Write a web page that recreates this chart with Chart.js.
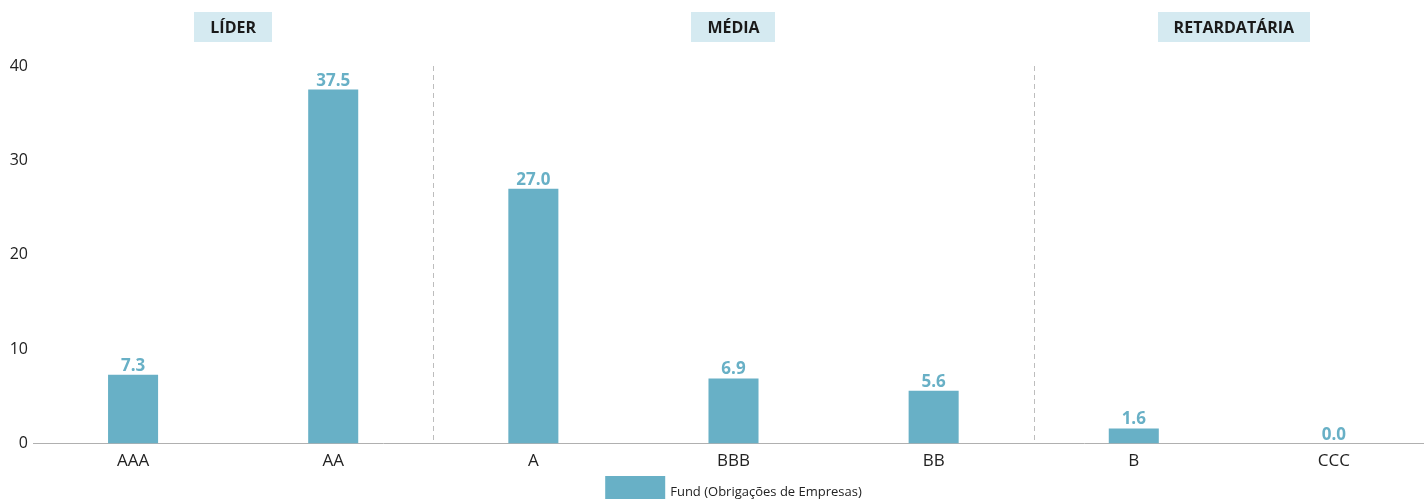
<!DOCTYPE html>
<html>
<head>
<meta charset="utf-8">
<script src="https://cdn.jsdelivr.net/npm/chart.js@4.4.1/dist/chart.umd.min.js"></script>
<style>
  html, body { margin: 0; padding: 0; background: #fff; overflow: hidden; }
  #wrap { width: 1434px; height: 499px; }
</style>
</head>
<body>
<div id="wrap"><canvas id="ratingChart"></canvas></div>
<script>
// Data
const ratings = ['AAA', 'AA', 'A', 'BBB', 'BB', 'B', 'CCC'];
const fundValues = [7.3, 37.5, 27.0, 6.9, 5.6, 1.6, 0.0];
const seriesName = 'Fund (Obrigações de Empresas)';
const groups = [
    { label: 'LÍDER', from: 0, to: 1 },
    { label: 'MÉDIA', from: 2, to: 4 },
    { label: 'RETARDATÁRIA', from: 5, to: 6 }
];
const yTicks = [0, 10, 20, 30, 40];

const barColor = '#68b0c6';
const fontFamily = '"Open Sans", "Noto Sans", sans-serif';

// group headers, separators, value labels and legend
const extras = {
    id: 'extras',
    beforeDatasetsDraw(chart) {
        const { ctx, chartArea } = chart;
        const x = chart.scales.x;
        ctx.save();
        ctx.strokeStyle = '#bdbdbd';
        ctx.lineWidth = 1;
        ctx.setLineDash([5, 4]);
        groups.slice(1).forEach(g => {
            const px = Math.round((x.getPixelForValue(g.from - 1) + x.getPixelForValue(g.from)) / 2) + 0.5;
            ctx.beginPath();
            ctx.moveTo(px, chartArea.top);
            ctx.lineTo(px, chartArea.bottom);
            ctx.stroke();
        });
        ctx.restore();
    },
    afterDatasetsDraw(chart) {
        const { ctx, chartArea } = chart;
        const x = chart.scales.x;
        ctx.save();
        // value labels
        ctx.font = 'bold 17px ' + fontFamily;
        ctx.fillStyle = barColor;
        ctx.textAlign = 'center';
        ctx.textBaseline = 'alphabetic';
        chart.getDatasetMeta(0).data.forEach((bar, i) => {
            ctx.fillText(fundValues[i].toFixed(1), bar.x, bar.y - 4);
        });
        // group headers
        ctx.font = 'bold 16px ' + fontFamily;
        ctx.textBaseline = 'middle';
        groups.forEach(g => {
            const cx = (x.getPixelForValue(g.from) + x.getPixelForValue(g.to)) / 2;
            const w = ctx.measureText(g.label).width + 32;
            ctx.fillStyle = '#d5eaf1';
            ctx.fillRect(Math.round(cx - w / 2), 12, Math.round(w), 30);
            ctx.fillStyle = '#1a1a1a';
            ctx.fillText(g.label, cx, 28);
        });
        // legend
        ctx.font = '13px ' + fontFamily;
        const tw = ctx.measureText(seriesName).width;
        const total = 60 + 5 + tw;
        const lx = (chartArea.left + chartArea.right) / 2 - total / 2;
        ctx.fillStyle = barColor;
        ctx.fillRect(lx, 476, 60, 26);
        ctx.fillStyle = '#222';
        ctx.textAlign = 'left';
        ctx.textBaseline = 'alphabetic';
        ctx.fillText(seriesName, lx + 65, 496);
        ctx.restore();
    }
};

new Chart(document.getElementById('ratingChart'), {
    type: 'bar',
    data: {
        labels: ratings,
        datasets: [{
            label: seriesName,
            data: fundValues,
            backgroundColor: barColor,
            barPercentage: 0.25,
            categoryPercentage: 1.0
        }]
    },
    options: {
        responsive: true,
        maintainAspectRatio: false,
        animation: false,
        layout: { padding: { top: 66, right: 0, bottom: 21, left: 0 } },
        plugins: {
            legend: { display: false },
            tooltip: { enabled: false }
        },
        scales: {
            x: {
                grid: { display: false, drawTicks: false },
                border: { display: true, color: '#b0b0b0', width: 1 },
                ticks: { padding: 7, color: '#222', font: { family: fontFamily, size: 17 } }
            },
            y: {
                min: 0,
                max: 40,
                afterFit(scale) { scale.width = 33; },
                afterBuildTicks(scale) { scale.ticks = yTicks.map(v => ({ value: v })); },
                grid: { display: false, drawTicks: false },
                border: { display: false },
                ticks: { padding: 5, color: '#222', font: { family: fontFamily, size: 16 } }
            }
        }
    },
    plugins: [extras]
});
</script>
</body>
</html>
